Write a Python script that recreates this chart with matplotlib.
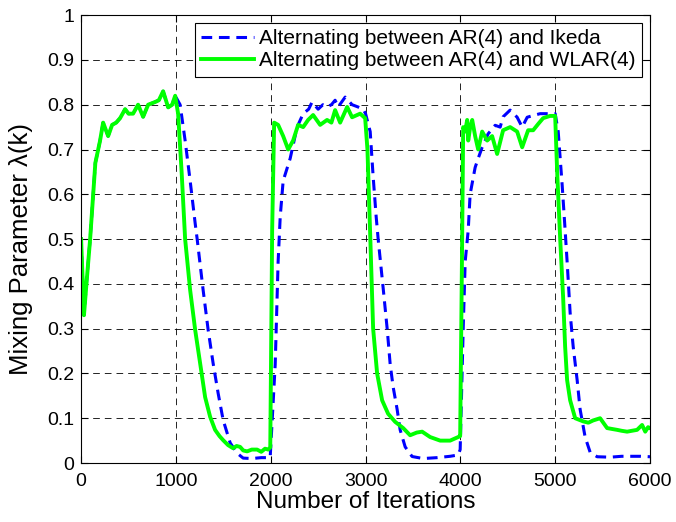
import numpy as np
import matplotlib
matplotlib.use('Agg')
import matplotlib.pyplot as plt

plt.rcParams['font.family'] = ['Liberation Sans', 'DejaVu Sans']

# shared start (both curves overlap up to ~1000 iterations)
start_x = [0, 30, 60, 95, 150, 200, 232, 285, 327, 370, 411, 464, 500, 548,
           601, 654, 707, 780, 820, 865, 918, 960, 992]
start_y = [0.50, 0.33, 0.41, 0.50, 0.67, 0.72, 0.76, 0.73, 0.755, 0.76, 0.77,
           0.79, 0.78, 0.78, 0.80, 0.773, 0.80, 0.806, 0.81, 0.83, 0.794, 0.80, 0.82]

# AR(4) <-> Ikeda (blue dashed)
ikeda_x = [1044, 1097, 1150, 1203, 1224, 1287, 1340, 1392, 1445, 1498, 1572,
           1645, 1709, 1800, 1900, 1994, 2047, 2078, 2100, 2131, 2205, 2278,
           2342, 2400, 2436, 2500, 2550, 2594, 2640, 2679, 2711, 2785, 2858,
           2920, 2975, 3000, 3049, 3080, 3112, 3133, 3186, 3228, 3260, 3291,
           3333, 3365, 3418, 3491, 3607, 3755, 3892, 3977, 3998, 4030, 4051,
           4083, 4103, 4156, 4188, 4230, 4293, 4367, 4420, 4451, 4525, 4599,
           4652, 4705, 4768, 4842, 4916, 4968, 5000, 5032, 5074, 5105, 5126,
           5158, 5190, 5232, 5263, 5316, 5369, 5443, 5580, 5700, 5790, 5900, 6000]
ikeda_y = [0.80, 0.72, 0.63, 0.535, 0.50, 0.386, 0.297, 0.223, 0.156, 0.096, 0.045,
           0.022, 0.011, 0.010, 0.012, 0.012, 0.22, 0.45, 0.55, 0.63, 0.68, 0.75,
           0.78, 0.79, 0.806, 0.79, 0.80, 0.795, 0.80, 0.81, 0.795, 0.817, 0.80,
           0.795, 0.79, 0.78, 0.74, 0.64, 0.55, 0.50, 0.39, 0.30, 0.22, 0.17,
           0.12, 0.074, 0.036, 0.0145, 0.010, 0.012, 0.015, 0.018, 0.03, 0.30, 0.45,
           0.52, 0.60, 0.66, 0.68, 0.705, 0.735, 0.754, 0.75, 0.773, 0.788, 0.772,
           0.75, 0.772, 0.776, 0.78, 0.78, 0.78, 0.78, 0.74, 0.62, 0.52, 0.45,
           0.335, 0.26, 0.185, 0.12, 0.058, 0.024, 0.014, 0.013, 0.015, 0.015, 0.015, 0.014]

# AR(4) <-> WLAR(4) (green solid)
wlar_x = [1023, 1060, 1097, 1150, 1203, 1255, 1308, 1361, 1413, 1460, 1498,
          1550, 1603, 1640, 1677, 1710, 1751, 1800, 1856, 1900, 1940, 1973,
          1995, 2015, 2036, 2078, 2131, 2184, 2236, 2289, 2342, 2394, 2447,
          2521, 2594, 2640, 2679, 2732, 2806, 2858, 2943, 2996, 3020, 3049,
          3080, 3122, 3175, 3238, 3312, 3397, 3470, 3540, 3597, 3681, 3787,
          3892, 3977, 3998, 4019, 4030, 4050, 4072, 4083, 4104, 4125, 4156,
          4188, 4230, 4283, 4335, 4388, 4451, 4525, 4599, 4652, 4715, 4768,
          4821, 4873, 4947, 5000, 5021, 5053, 5084, 5105, 5126, 5158, 5211,
          5295, 5350, 5400, 5474, 5548, 5600, 5654, 5700, 5759, 5810, 5864,
          5917, 5950, 5980, 6000]
wlar_y = [0.78, 0.65, 0.50, 0.386, 0.297, 0.223, 0.147, 0.103, 0.074, 0.060, 0.051,
          0.040, 0.033, 0.038, 0.036, 0.028, 0.026, 0.030, 0.030, 0.025, 0.032, 0.030,
          0.035, 0.52, 0.76, 0.755, 0.73, 0.70, 0.72, 0.755, 0.75, 0.766, 0.777,
          0.755, 0.766, 0.76, 0.788, 0.76, 0.795, 0.772, 0.78, 0.77, 0.70, 0.51,
          0.30, 0.20, 0.14, 0.11, 0.092, 0.078, 0.062, 0.068, 0.070, 0.058, 0.050,
          0.050, 0.058, 0.060, 0.50, 0.75, 0.74, 0.766, 0.72, 0.75, 0.766, 0.73,
          0.70, 0.74, 0.72, 0.73, 0.69, 0.743, 0.75, 0.74, 0.705, 0.743, 0.743,
          0.757, 0.77, 0.775, 0.775, 0.65, 0.50, 0.37, 0.26, 0.185, 0.14, 0.10,
          0.093, 0.090, 0.095, 0.100, 0.078, 0.076, 0.074, 0.072, 0.070, 0.072, 0.074,
          0.085, 0.070, 0.080, 0.078]

labels = ['Alternating between AR(4) and Ikeda',
          'Alternating between AR(4) and WLAR(4)']

fig = plt.figure(figsize=(6.76, 5.22), dpi=100)
ax = fig.add_axes([0.120, 0.113, 0.8415, 0.858])

ax.plot(start_x + ikeda_x, start_y + ikeda_y, color=(0, 0, 1), lw=2.2,
        linestyle=(0, (3.5, 2.2)), label=labels[0])
ax.plot(start_x + wlar_x, start_y + wlar_y, color=(0, 1, 0), lw=2.8,
        label=labels[1])

ax.set_xlim(0, 6000)
ax.set_ylim(0, 1)
ax.set_xticks(np.arange(0, 6001, 1000))
ax.set_yticks(np.arange(0, 1.01, 0.1))
ax.set_yticklabels(['0', '0.1', '0.2', '0.3', '0.4', '0.5', '0.6', '0.7', '0.8', '0.9', '1'])
ax.tick_params(direction='in', top=True, right=True, labelsize=14, length=5)
ax.tick_params(axis='x', pad=7)
ax.tick_params(axis='y', pad=5)
ax.grid(True, color='black', linestyle=(0, (8, 6)), linewidth=0.6)

ax.set_xlabel('Number of Iterations', fontsize=17.5, labelpad=1)
ax.set_ylabel('Mixing Parameter λ(k)', fontsize=18.5)
ax.yaxis.set_label_coords(-0.084, 0.478)

leg = ax.legend(loc='upper right', fontsize=15, fancybox=False, framealpha=1,
                edgecolor='black', handlelength=2.55, handletextpad=0.25,
                borderaxespad=0.38, borderpad=0.3, labelspacing=0.15)
leg.get_frame().set_linewidth(0.8)

fig.savefig('out.png', dpi=100)
